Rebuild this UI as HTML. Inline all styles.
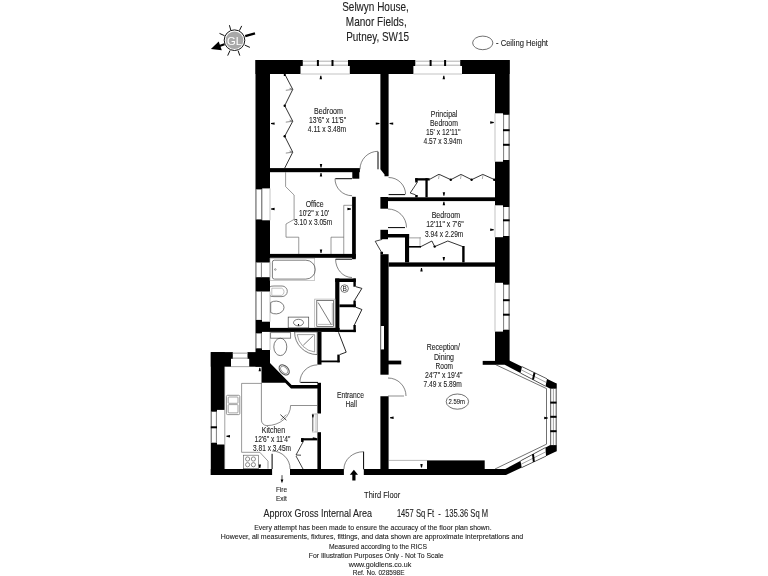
<!DOCTYPE html>
<html><head><meta charset="utf-8"><style>
html,body{margin:0;padding:0;background:#fff;width:768px;height:576px;overflow:hidden}
svg{display:block;filter:grayscale(1)}
text{font-family:"Liberation Sans",sans-serif}
</style></head><body>
<svg width="768" height="576" viewBox="0 0 768 576">
<rect width="768" height="576" fill="#fff"/>
<rect x="255.50" y="60.00" width="254.10" height="14.00" fill="#000" />
<rect x="300.50" y="66.00" width="49.30" height="8.00" fill="#fff" />
<rect x="302.80" y="60.00" width="45.20" height="6.00" fill="#fff" />
<line x1="302.80" y1="61.20" x2="348.00" y2="61.20" stroke="#9a9a9a" stroke-width="0.8"/>
<line x1="302.80" y1="65.20" x2="348.00" y2="65.20" stroke="#9a9a9a" stroke-width="0.8"/>
<line x1="300.50" y1="74.00" x2="349.80" y2="74.00" stroke="#9a9a9a" stroke-width="0.6"/>
<rect x="316.90" y="60.00" width="2.00" height="6.00" fill="#000" />
<rect x="331.50" y="60.00" width="2.00" height="6.00" fill="#000" />
<rect x="413.40" y="66.00" width="48.60" height="8.00" fill="#fff" />
<rect x="415.30" y="60.00" width="44.90" height="6.00" fill="#fff" />
<line x1="415.30" y1="61.20" x2="460.20" y2="61.20" stroke="#9a9a9a" stroke-width="0.8"/>
<line x1="415.30" y1="65.20" x2="460.20" y2="65.20" stroke="#9a9a9a" stroke-width="0.8"/>
<line x1="413.40" y1="74.00" x2="462.00" y2="74.00" stroke="#9a9a9a" stroke-width="0.6"/>
<rect x="429.60" y="60.00" width="2.00" height="6.00" fill="#000" />
<rect x="444.10" y="60.00" width="2.00" height="6.00" fill="#000" />
<rect x="255.50" y="60.00" width="14.50" height="306.70" fill="#000" />
<rect x="262.20" y="188.40" width="7.80" height="31.90" fill="#fff" />
<rect x="255.50" y="189.40" width="6.70" height="30.00" fill="#fff" />
<line x1="256.10" y1="189.40" x2="256.10" y2="219.40" stroke="#444" stroke-width="0.7"/>
<line x1="261.60" y1="189.40" x2="261.60" y2="219.40" stroke="#444" stroke-width="0.7"/>
<line x1="270.00" y1="188.40" x2="270.00" y2="220.30" stroke="#9a9a9a" stroke-width="0.6"/>
<rect x="262.00" y="262.50" width="8.00" height="14.70" fill="#fff" />
<rect x="255.50" y="262.50" width="6.50" height="14.70" fill="#fff" />
<line x1="256.10" y1="262.50" x2="256.10" y2="277.20" stroke="#444" stroke-width="0.7"/>
<line x1="261.40" y1="262.50" x2="261.40" y2="277.20" stroke="#444" stroke-width="0.7"/>
<line x1="270.00" y1="262.50" x2="270.00" y2="277.20" stroke="#9a9a9a" stroke-width="0.6"/>
<rect x="262.00" y="291.50" width="8.00" height="30.20" fill="#fff" />
<rect x="255.50" y="291.50" width="6.50" height="28.40" fill="#fff" />
<line x1="256.10" y1="291.50" x2="256.10" y2="319.90" stroke="#444" stroke-width="0.7"/>
<line x1="261.40" y1="291.50" x2="261.40" y2="319.90" stroke="#444" stroke-width="0.7"/>
<line x1="270.00" y1="291.50" x2="270.00" y2="321.70" stroke="#9a9a9a" stroke-width="0.6"/>
<rect x="262.00" y="331.90" width="8.00" height="18.10" fill="#fff" />
<rect x="255.50" y="333.40" width="6.50" height="14.90" fill="#fff" />
<line x1="256.10" y1="333.40" x2="256.10" y2="348.30" stroke="#444" stroke-width="0.7"/>
<line x1="261.40" y1="333.40" x2="261.40" y2="348.30" stroke="#444" stroke-width="0.7"/>
<line x1="270.00" y1="331.90" x2="270.00" y2="350.00" stroke="#9a9a9a" stroke-width="0.6"/>
<rect x="495.00" y="60.00" width="14.60" height="301.00" fill="#000" />
<rect x="495.00" y="113.30" width="8.00" height="48.40" fill="#fff" />
<rect x="503.00" y="114.80" width="6.60" height="45.20" fill="#fff" />
<line x1="509.00" y1="114.80" x2="509.00" y2="160.00" stroke="#444" stroke-width="0.7"/>
<line x1="503.60" y1="114.80" x2="503.60" y2="160.00" stroke="#444" stroke-width="0.7"/>
<line x1="495.00" y1="113.30" x2="495.00" y2="161.70" stroke="#9a9a9a" stroke-width="0.6"/>
<rect x="503.00" y="129.20" width="6.60" height="2.00" fill="#000" />
<rect x="503.00" y="143.80" width="6.60" height="2.00" fill="#000" />
<rect x="495.00" y="205.30" width="8.00" height="31.90" fill="#fff" />
<rect x="503.00" y="207.00" width="6.60" height="29.00" fill="#fff" />
<line x1="509.00" y1="207.00" x2="509.00" y2="236.00" stroke="#444" stroke-width="0.7"/>
<line x1="503.60" y1="207.00" x2="503.60" y2="236.00" stroke="#444" stroke-width="0.7"/>
<line x1="495.00" y1="205.30" x2="495.00" y2="237.20" stroke="#9a9a9a" stroke-width="0.6"/>
<rect x="503.00" y="219.30" width="6.60" height="2.00" fill="#000" />
<rect x="495.00" y="282.80" width="8.00" height="48.80" fill="#fff" />
<rect x="503.00" y="284.70" width="6.60" height="45.00" fill="#fff" />
<line x1="509.00" y1="284.70" x2="509.00" y2="329.70" stroke="#444" stroke-width="0.7"/>
<line x1="503.60" y1="284.70" x2="503.60" y2="329.70" stroke="#444" stroke-width="0.7"/>
<line x1="495.00" y1="282.80" x2="495.00" y2="331.60" stroke="#9a9a9a" stroke-width="0.6"/>
<rect x="503.00" y="299.20" width="6.60" height="2.00" fill="#000" />
<rect x="503.00" y="313.70" width="6.60" height="2.00" fill="#000" />
<rect x="482.70" y="360.90" width="12.80" height="3.90" fill="#000" />
<polygon points="495.00,360.50 509.40,360.50 556.50,383.40 556.50,388.70 550.30,388.70 504.70,364.80 495.00,364.80" fill="#000"/>
<rect x="550.30" y="383.40" width="6.20" height="67.80" fill="#000" />
<polygon points="556.50,445.00 556.50,451.20 506.00,475.00 495.00,475.00 495.00,469.00 505.30,469.00 550.30,445.00" fill="#000"/>
<polygon points="522.00,366.63 547.00,378.78 545.50,386.18 520.50,373.08" fill="#fff"/>
<polyline points="522.00,366.63 547.00,378.78" stroke="#333" stroke-width="0.7" fill="none" stroke-linejoin="miter"/>
<polyline points="520.50,373.08 545.50,386.18" stroke="#333" stroke-width="0.7" fill="none" stroke-linejoin="miter"/>
<polyline points="521.25,369.85 546.25,382.48" stroke="#666" stroke-width="0.6" fill="none" stroke-linejoin="miter"/>
<line x1="534.50" y1="372.70" x2="533.00" y2="379.63" stroke="#000" stroke-width="2"/>
<rect x="550.30" y="388.70" width="6.20" height="56.40" fill="#fff" />
<line x1="550.70" y1="388.70" x2="550.70" y2="445.10" stroke="#333" stroke-width="0.7"/>
<line x1="553.40" y1="388.70" x2="553.40" y2="445.10" stroke="#666" stroke-width="0.6"/>
<line x1="556.10" y1="388.70" x2="556.10" y2="445.10" stroke="#333" stroke-width="0.7"/>
<rect x="550.30" y="401.60" width="6.20" height="2.00" fill="#000" />
<rect x="550.30" y="415.80" width="6.20" height="2.00" fill="#000" />
<rect x="550.30" y="430.20" width="6.20" height="2.00" fill="#000" />
<polygon points="546.00,456.15 521.70,467.60 520.50,460.89 545.50,447.56" fill="#fff"/>
<polyline points="546.00,456.15 521.70,467.60" stroke="#333" stroke-width="0.7" fill="none" stroke-linejoin="miter"/>
<polyline points="545.50,447.56 520.50,460.89" stroke="#333" stroke-width="0.7" fill="none" stroke-linejoin="miter"/>
<polyline points="545.75,451.85 521.10,464.25" stroke="#666" stroke-width="0.6" fill="none" stroke-linejoin="miter"/>
<line x1="533.85" y1="461.87" x2="533.00" y2="454.23" stroke="#000" stroke-width="2"/>
<polyline points="495.90,364.80 546.50,388.60 546.50,444.20 495.00,469.00" stroke="#333" stroke-width="0.7" fill="none" stroke-linejoin="miter"/>
<rect x="290.00" y="469.00" width="53.90" height="6.00" fill="#000" />
<rect x="363.80" y="469.00" width="142.20" height="6.00" fill="#000" />
<rect x="427.00" y="460.40" width="57.70" height="14.60" fill="#000" />
<line x1="388.70" y1="460.40" x2="427.00" y2="460.40" stroke="#9a9a9a" stroke-width="0.7"/>
<rect x="210.80" y="352.10" width="14.00" height="122.90" fill="#000" />
<rect x="210.80" y="469.00" width="61.30" height="6.00" fill="#000" />
<rect x="210.80" y="352.10" width="59.20" height="14.60" fill="#000" />
<rect x="231.00" y="358.80" width="18.20" height="7.90" fill="#fff" />
<rect x="232.80" y="352.10" width="14.70" height="6.70" fill="#fff" />
<line x1="232.80" y1="353.30" x2="247.50" y2="353.30" stroke="#9a9a9a" stroke-width="0.8"/>
<line x1="232.80" y1="358.00" x2="247.50" y2="358.00" stroke="#9a9a9a" stroke-width="0.8"/>
<line x1="231.00" y1="366.70" x2="249.20" y2="366.70" stroke="#9a9a9a" stroke-width="0.6"/>
<rect x="217.00" y="409.90" width="7.80" height="34.60" fill="#fff" />
<rect x="210.80" y="411.70" width="6.20" height="31.00" fill="#fff" />
<line x1="211.40" y1="411.70" x2="211.40" y2="442.70" stroke="#444" stroke-width="0.7"/>
<line x1="216.40" y1="411.70" x2="216.40" y2="442.70" stroke="#444" stroke-width="0.7"/>
<line x1="224.80" y1="409.90" x2="224.80" y2="444.50" stroke="#9a9a9a" stroke-width="0.6"/>
<rect x="210.80" y="426.30" width="6.20" height="2.00" fill="#000" />
<polygon points="261.50,366.70 270.00,362.90 291.60,385.10 321.00,385.10 321.00,388.60 291.00,388.60 285.20,382.80 261.50,382.80" fill="#000"/>
<rect x="261.50" y="362.00" width="8.50" height="5.00" fill="#000" />
<polygon points="380.40,74.00 388.60,74.00 388.60,176.30 384.50,176.30 384.50,174.60 380.40,169.30" fill="#000"/>
<rect x="270.00" y="168.10" width="89.90" height="4.10" fill="#000" />
<rect x="352.30" y="172.00" width="7.00" height="6.70" fill="#000" />
<rect x="352.10" y="196.80" width="3.70" height="62.40" fill="#000" />
<rect x="270.00" y="253.90" width="85.80" height="3.90" fill="#000" />
<rect x="388.00" y="197.30" width="107.00" height="3.80" fill="#000" />
<rect x="380.40" y="197.00" width="7.60" height="11.70" fill="#000" />
<rect x="380.40" y="229.80" width="7.60" height="9.40" fill="#000" />
<rect x="388.00" y="234.00" width="21.10" height="3.50" fill="#000" />
<rect x="405.00" y="234.00" width="4.10" height="28.40" fill="#000" />
<rect x="388.60" y="262.40" width="106.40" height="4.30" fill="#000" />
<rect x="380.40" y="254.20" width="8.20" height="120.50" fill="#000" />
<rect x="380.40" y="251.80" width="2.60" height="2.40" fill="#000" />
<rect x="380.40" y="396.25" width="8.20" height="72.75" fill="#000" />
<rect x="388.00" y="360.60" width="13.25" height="3.80" fill="#000" />
<rect x="381.00" y="326.00" width="3.00" height="23.40" fill="#fff" />
<line x1="381.00" y1="326.00" x2="381.00" y2="349.40" stroke="#9a9a9a" stroke-width="0.6"/>
<rect x="269.75" y="327.90" width="69.95" height="4.00" fill="#000" />
<rect x="335.20" y="278.50" width="4.20" height="53.40" fill="#000" />
<rect x="335.20" y="278.50" width="20.60" height="3.50" fill="#000" />
<rect x="353.40" y="278.50" width="2.40" height="8.20" fill="#000" />
<rect x="339.40" y="304.40" width="16.40" height="2.80" fill="#000" />
<rect x="353.40" y="300.60" width="2.40" height="6.60" fill="#000" />
<rect x="339.40" y="329.70" width="16.40" height="2.40" fill="#000" />
<rect x="353.40" y="325.00" width="2.40" height="7.10" fill="#000" />
<polyline points="355.80,286.70 361.90,288.40 354.40,300.60" stroke="#111" stroke-width="0.9" fill="none" stroke-linejoin="miter"/>
<polyline points="355.80,307.20 361.90,309.50 354.40,325.00" stroke="#111" stroke-width="0.9" fill="none" stroke-linejoin="miter"/>
<circle cx="344.6" cy="288.6" r="3.8" fill="none" stroke="#222" stroke-width="0.6"/>
<text x="344.6" y="291.2" font-size="6.5" text-anchor="middle" fill="#222">B</text>
<rect x="317.40" y="331.90" width="4.10" height="32.70" fill="#000" />
<rect x="317.40" y="382.80" width="3.60" height="30.70" fill="#000" />
<rect x="317.40" y="432.20" width="3.60" height="37.10" fill="#000" />
<rect x="301.10" y="438.20" width="16.30" height="2.20" fill="#000" />
<rect x="301.10" y="438.20" width="2.50" height="3.80" fill="#000" />
<rect x="321.00" y="360.50" width="18.70" height="1.80" fill="#000" />
<rect x="337.30" y="354.60" width="2.40" height="7.70" fill="#000" />
<polyline points="338.50,332.30 346.20,352.20 339.70,354.60" stroke="#111" stroke-width="0.9" fill="none" stroke-linejoin="miter"/>
<line x1="378.00" y1="151.70" x2="378.00" y2="169.30" stroke="#000" stroke-width="1.0"/>
<path d="M360.00,169.30 A18,18 0 0 1 378.00,151.30" stroke="#333" stroke-width="0.6" fill="none"/>
<line x1="335.30" y1="178.70" x2="352.00" y2="178.70" stroke="#000" stroke-width="1.0"/>
<path d="M352.00,195.70 A17,17 0 0 1 335.00,178.70" stroke="#333" stroke-width="0.6" fill="none"/>
<line x1="388.60" y1="194.60" x2="405.00" y2="194.60" stroke="#000" stroke-width="1.0"/>
<path d="M388.60,177.50 A17,17 0 0 1 405.60,194.50" stroke="#333" stroke-width="0.6" fill="none"/>
<line x1="388.00" y1="227.60" x2="405.00" y2="227.60" stroke="#000" stroke-width="1.0"/>
<path d="M388.00,209.00 A18.5,18.5 0 0 1 406.50,227.50" stroke="#333" stroke-width="0.6" fill="none"/>
<line x1="335.60" y1="259.20" x2="352.00" y2="259.20" stroke="#000" stroke-width="1.0"/>
<path d="M335.6,259.2 A16.4,18.3 0 0 0 352,277.5" stroke="#333" stroke-width="0.6" fill="none"/>
<line x1="300.40" y1="382.40" x2="318.00" y2="382.40" stroke="#000" stroke-width="1.0"/>
<path d="M299.90,382.40 A17.5,17.5 0 0 1 317.40,364.90" stroke="#333" stroke-width="0.6" fill="none"/>
<line x1="388.00" y1="396.00" x2="404.00" y2="396.00" stroke="#444" stroke-width="0.6"/>
<path d="M388.00,378.00 A18,18 0 0 1 406.00,396.00" stroke="#333" stroke-width="0.6" fill="none"/>
<line x1="363.60" y1="451.70" x2="363.60" y2="469.30" stroke="#000" stroke-width="1.0"/>
<path d="M343.9,469.3 A19.7,17.6 0 0 1 363.6,451.7" stroke="#333" stroke-width="0.6" fill="none"/>
<line x1="272.10" y1="453.80" x2="272.10" y2="469.00" stroke="#000" stroke-width="1.0"/>
<path d="M272.10,451.00 A18,18 0 0 1 290.10,469.00" stroke="#333" stroke-width="0.6" fill="none"/>
<polyline points="284.70,74.00 292.75,89.40 284.70,105.70 292.75,121.25 284.70,136.25 292.75,152.20 284.70,168.10" stroke="#000" stroke-width="0.8" fill="none" stroke-linejoin="miter"/>
<polyline points="285.80,90.30 292.75,89.40 289.50,88.20" stroke="#444" stroke-width="0.6" fill="none" stroke-linejoin="miter"/>
<polyline points="285.80,122.15 292.75,121.25 289.50,120.05" stroke="#444" stroke-width="0.6" fill="none" stroke-linejoin="miter"/>
<polyline points="285.80,153.10 292.75,152.20 289.50,151.00" stroke="#444" stroke-width="0.6" fill="none" stroke-linejoin="miter"/>
<circle cx="284.70" cy="105.70" r="1.2" fill="#000"/>
<circle cx="284.70" cy="136.25" r="1.2" fill="#000"/>
<rect x="283.80" y="74.00" width="1.80" height="2.00" fill="#000" />
<rect x="415.20" y="178.20" width="14.50" height="2.30" fill="#000" />
<rect x="415.20" y="178.20" width="2.50" height="4.30" fill="#000" />
<rect x="415.20" y="195.00" width="2.50" height="2.30" fill="#000" />
<rect x="425.40" y="178.20" width="2.30" height="19.10" fill="#000" />
<polyline points="417.20,182.50 410.20,193.00 415.60,194.80" stroke="#111" stroke-width="0.8" fill="none" stroke-linejoin="miter"/>
<polyline points="429.70,179.30 439.00,174.25 450.80,179.70 461.00,174.40 471.60,179.70 482.80,174.40 494.70,179.70" stroke="#000" stroke-width="0.8" fill="none" stroke-linejoin="miter"/>
<line x1="439.30" y1="174.40" x2="438.50" y2="179.00" stroke="#888" stroke-width="0.7"/>
<line x1="461.30" y1="174.40" x2="460.50" y2="179.00" stroke="#888" stroke-width="0.7"/>
<line x1="483.10" y1="174.40" x2="482.30" y2="179.00" stroke="#888" stroke-width="0.7"/>
<circle cx="494.20" cy="179.70" r="1.2" fill="#000"/>
<circle cx="450.80" cy="179.70" r="1.2" fill="#000"/>
<circle cx="471.60" cy="179.70" r="1.2" fill="#000"/>
<rect x="409.00" y="237.50" width="12.00" height="0.80" fill="#888" />
<line x1="420.00" y1="237.50" x2="420.00" y2="246.60" stroke="#888" stroke-width="0.6"/>
<rect x="409.00" y="246.00" width="12.00" height="1.60" fill="#000" />
<polyline points="420.50,246.80 431.90,241.00 434.70,246.60 447.80,241.00 462.80,246.60" stroke="#000" stroke-width="0.8" fill="none" stroke-linejoin="miter"/>
<circle cx="434.70" cy="246.60" r="1.2" fill="#000"/>
<rect x="462.20" y="246.00" width="2.40" height="16.40" fill="#000" />
<polyline points="382.20,239.40 375.20,241.30 381.60,252.40" stroke="#111" stroke-width="0.8" fill="none" stroke-linejoin="miter"/>
<polyline points="285.60,172.20 285.60,186.60 294.10,195.00 294.10,219.40 286.00,224.00 286.00,237.20 298.75,237.20 298.75,254.00" stroke="#555" stroke-width="0.6" fill="none" stroke-linejoin="miter"/>
<polyline points="343.75,254.00 343.75,205.30 352.10,205.30" stroke="#555" stroke-width="0.6" fill="none" stroke-linejoin="miter"/>
<polyline points="331.00,254.00 331.00,237.20 343.75,237.20" stroke="#555" stroke-width="0.6" fill="none" stroke-linejoin="miter"/>
<rect x="270" y="258.6" width="44.7" height="22" fill="none" stroke="#aaa" stroke-width="0.6"/>
<path d="M274.4,260.2 H305.8 A9.5,9.45 0 0 1 305.8,279.1 H274.4 A2,2 0 0 1 272.4,277.1 V262.2 A2,2 0 0 1 274.4,260.2 Z" stroke="#444" stroke-width="0.7" fill="none"/>
<circle cx="275.3" cy="269.5" r="0.8" fill="none" stroke="#444" stroke-width="0.5"/>
<path d="M270,287 Q270,286 274,286 H282 A5.3,5.3 0 0 1 282,296.6 H274 Q270,296.6 270,295.6" stroke="#777" stroke-width="0.9" fill="none"/>
<path d="M271.8,288.2 H281.8 A4,4 0 0 1 281.8,295.4 H271.8 Z" stroke="#999" stroke-width="0.6" fill="none"/>
<path d="M270.7,302.5 A8.2,6.4 0 1 1 270.7,312.5 Z" stroke="#444" stroke-width="0.7" fill="none"/>
<rect x="288.2" y="317.1" width="20.5" height="10.8" fill="none" stroke="#444" stroke-width="0.7"/>
<ellipse cx="298.5" cy="322.6" rx="5" ry="3.3" fill="none" stroke="#444" stroke-width="0.7"/>
<polygon points="297.90,324.10 299.10,324.10 298.75,325.90 298.25,325.90" fill="#000"/>
<rect x="314.7" y="299.1" width="20.3" height="28.4" fill="none" stroke="#aaa" stroke-width="0.7"/>
<rect x="316.8" y="300.4" width="16.6" height="26.2" fill="none" stroke="#444" stroke-width="0.7"/>
<line x1="318.10" y1="302.50" x2="331.40" y2="324.80" stroke="#444" stroke-width="0.7"/>
<line x1="318.00" y1="324.40" x2="332.50" y2="324.40" stroke="#888" stroke-width="0.6"/>
<line x1="332.30" y1="303.00" x2="332.30" y2="325.00" stroke="#aaa" stroke-width="0.8"/>
<rect x="270.6" y="332.6" width="20" height="5.6" fill="none" stroke="#777" stroke-width="0.9"/>
<ellipse cx="280.3" cy="346.9" rx="6.5" ry="8.7" fill="none" stroke="#444" stroke-width="0.7"/>
<path d="M294.6,332 A22.6,22.6 0 0 0 317.2,354.6 V332 Z" stroke="#444" stroke-width="0.7" fill="none"/>
<path d="M297.2,334.6 A20,20 0 0 0 314.6,352 V334.6 Z" stroke="#666" stroke-width="0.6" fill="none"/>
<line x1="303.30" y1="345.20" x2="313.30" y2="335.60" stroke="#444" stroke-width="0.7"/>
<ellipse cx="284.2" cy="369.9" rx="6" ry="4" transform="rotate(45 284.2 369.9)" fill="none" stroke="#555" stroke-width="1"/>
<ellipse cx="284.2" cy="369.9" rx="4.5" ry="2.7" transform="rotate(45 284.2 369.9)" fill="none" stroke="#444" stroke-width="0.5"/>
<polyline points="241.60,383.40 241.60,452.30 259.80,452.30 268.00,461.10 268.00,468.70" stroke="#555" stroke-width="0.6" fill="none" stroke-linejoin="miter"/>
<line x1="241.60" y1="383.40" x2="261.50" y2="383.40" stroke="#555" stroke-width="0.6"/>
<path d="M261.4,382.8 V420.1 A5.5,5.5 0 0 0 266.9,425.6 A23.7,20.1 0 0 0 290.6,405.5 H317.4" stroke="#444" stroke-width="0.6" fill="none"/>
<line x1="280.40" y1="414.60" x2="286.40" y2="420.20" stroke="#111" stroke-width="0.8"/>
<line x1="286.20" y1="414.60" x2="280.60" y2="420.20" stroke="#111" stroke-width="0.5"/>
<rect x="226.4" y="395.3" width="13.4" height="19.3" rx="1.2" fill="none" stroke="#888" stroke-width="0.9"/>
<rect x="228.2" y="397" width="9.8" height="6.3" rx="0.8" fill="none" stroke="#666" stroke-width="0.6"/>
<rect x="228.2" y="404.6" width="9.8" height="8.3" rx="0.8" fill="none" stroke="#666" stroke-width="0.6"/>
<rect x="243.6" y="455.2" width="15" height="13.5" fill="none" stroke="#555" stroke-width="0.6"/>
<circle cx="247.6" cy="459" r="2.1" fill="none" stroke="#444" stroke-width="0.6"/>
<circle cx="253.4" cy="459" r="2.1" fill="none" stroke="#444" stroke-width="0.6"/>
<circle cx="247.6" cy="464.7" r="2.1" fill="none" stroke="#444" stroke-width="0.6"/>
<circle cx="253.4" cy="464.7" r="2.1" fill="none" stroke="#444" stroke-width="0.6"/>
<polygon points="258.60,464.40 261.00,464.40 260.30,468.00 259.30,468.00" fill="#000"/>
<line x1="224.80" y1="366.70" x2="224.80" y2="469.00" stroke="#bbb" stroke-width="0.6"/>
<rect x="314.80" y="413.50" width="2.60" height="18.70" fill="#ddd" />
<rect x="312.6" y="414" width="4.8" height="18" fill="none" stroke="#999" stroke-width="0.6"/>
<line x1="312.90" y1="416.00" x2="312.90" y2="431.00" stroke="#333" stroke-width="0.6"/>
<polygon points="311.82,414.38 313.98,414.38 313.35,417.62 312.45,417.62" fill="#000"/>
<polygon points="312.80,437.30 312.80,439.70 316.40,439.00 316.40,438.00" fill="#000"/>
<polyline points="303.00,442.00 296.00,455.00 301.00,455.20" stroke="#111" stroke-width="0.8" fill="none" stroke-linejoin="miter"/>
<polyline points="296.00,456.00 303.00,469.00" stroke="#111" stroke-width="0.8" fill="none" stroke-linejoin="miter"/>
<polygon points="353.90,469.80 349.80,474.80 352.30,474.80 352.30,480.40 355.50,480.40 355.50,474.80 358.00,474.80" fill="#000"/>
<line x1="282.00" y1="475.20" x2="282.00" y2="481.00" stroke="#111" stroke-width="0.8"/>
<polygon points="282.00,483.20 280.60,479.50 283.40,479.50" fill="#000"/>
<polygon points="319.60,79.30 322.00,79.30 321.30,75.70 320.30,75.70" fill="#000"/>
<polygon points="442.60,79.30 445.00,79.30 444.30,75.70 443.30,75.70" fill="#000"/>
<polygon points="274.60,122.40 274.60,124.80 271.00,124.10 271.00,123.10" fill="#000"/>
<polygon points="375.80,122.40 375.80,124.80 379.40,124.10 379.40,123.10" fill="#000"/>
<polygon points="393.20,122.40 393.20,124.80 389.60,124.10 389.60,123.10" fill="#000"/>
<polygon points="490.20,121.30 490.20,123.70 493.80,123.00 493.80,122.00" fill="#000"/>
<polygon points="319.80,176.60 322.20,176.60 321.50,173.00 320.50,173.00" fill="#000"/>
<polygon points="319.80,164.00 322.20,164.00 321.50,167.60 320.50,167.60" fill="#000"/>
<polygon points="274.60,207.80 274.60,210.20 271.00,209.50 271.00,208.50" fill="#000"/>
<polygon points="347.40,207.80 347.40,210.20 351.00,209.50 351.00,208.50" fill="#000"/>
<polygon points="319.80,249.40 322.20,249.40 321.50,253.00 320.50,253.00" fill="#000"/>
<polygon points="442.70,205.30 445.10,205.30 444.40,201.70 443.40,201.70" fill="#000"/>
<polygon points="442.70,192.20 445.10,192.20 444.40,195.80 443.40,195.80" fill="#000"/>
<polygon points="490.20,228.60 490.20,231.00 493.80,230.30 493.80,229.30" fill="#000"/>
<polygon points="420.30,271.60 422.70,271.60 422.00,268.00 421.00,268.00" fill="#000"/>
<polygon points="442.60,257.00 445.00,257.00 444.30,260.60 443.30,260.60" fill="#000"/>
<polygon points="544.20,416.80 544.20,419.20 547.80,418.50 547.80,417.50" fill="#000"/>
<polygon points="420.30,464.00 422.70,464.00 422.00,467.60 421.00,467.60" fill="#000"/>
<polygon points="258.60,371.30 261.00,371.30 260.30,367.70 259.30,367.70" fill="#000"/>
<polygon points="230.00,435.10 230.00,437.50 226.40,436.80 226.40,435.80" fill="#000"/>
<polygon points="393.60,416.60 393.60,419.00 390.00,418.30 390.00,417.30" fill="#000"/>
<text x="342.20" y="10.70" font-size="12.6" textLength="66.60" lengthAdjust="spacingAndGlyphs" fill="#222" stroke="#222" stroke-width="0.1">Selwyn House,</text>
<text x="345.80" y="25.80" font-size="12.6" textLength="60.90" lengthAdjust="spacingAndGlyphs" fill="#222" stroke="#222" stroke-width="0.1">Manor Fields,</text>
<text x="346.20" y="40.80" font-size="12.6" textLength="62.90" lengthAdjust="spacingAndGlyphs" fill="#222" stroke="#222" stroke-width="0.1">Putney, SW15</text>
<text x="496.00" y="46.40" font-size="8.6" textLength="52.00" lengthAdjust="spacingAndGlyphs" fill="#222" stroke="#222" stroke-width="0.1">- Ceiling Height</text>
<text x="314.10" y="113.90" font-size="8.2" textLength="28.90" lengthAdjust="spacingAndGlyphs" fill="#222" stroke="#222" stroke-width="0.1">Bedroom</text>
<text x="309.00" y="123.00" font-size="8.2" textLength="37.10" lengthAdjust="spacingAndGlyphs" fill="#222" stroke="#222" stroke-width="0.1">13'6" x 11'5"</text>
<text x="307.80" y="132.20" font-size="8.2" textLength="38.30" lengthAdjust="spacingAndGlyphs" fill="#222" stroke="#222" stroke-width="0.1">4.11 x 3.48m</text>
<text x="430.80" y="116.90" font-size="8.2" textLength="26.60" lengthAdjust="spacingAndGlyphs" fill="#222" stroke="#222" stroke-width="0.1">Principal</text>
<text x="430.00" y="125.80" font-size="8.2" textLength="27.90" lengthAdjust="spacingAndGlyphs" fill="#222" stroke="#222" stroke-width="0.1">Bedroom</text>
<text x="426.00" y="134.90" font-size="8.2" textLength="34.60" lengthAdjust="spacingAndGlyphs" fill="#222" stroke="#222" stroke-width="0.1">15' x 12'11''</text>
<text x="423.50" y="143.70" font-size="8.2" textLength="38.50" lengthAdjust="spacingAndGlyphs" fill="#222" stroke="#222" stroke-width="0.1">4.57 x 3.94m</text>
<text x="305.70" y="206.70" font-size="8.2" textLength="18.00" lengthAdjust="spacingAndGlyphs" fill="#222" stroke="#222" stroke-width="0.1">Office</text>
<text x="299.00" y="215.70" font-size="8.2" textLength="30.10" lengthAdjust="spacingAndGlyphs" fill="#222" stroke="#222" stroke-width="0.1">10'2'' x 10'</text>
<text x="294.00" y="224.70" font-size="8.2" textLength="38.30" lengthAdjust="spacingAndGlyphs" fill="#222" stroke="#222" stroke-width="0.1">3.10 x 3.05m</text>
<text x="431.70" y="217.90" font-size="8.2" textLength="28.50" lengthAdjust="spacingAndGlyphs" fill="#222" stroke="#222" stroke-width="0.1">Bedroom</text>
<text x="426.25" y="226.90" font-size="8.2" textLength="37.50" lengthAdjust="spacingAndGlyphs" fill="#222" stroke="#222" stroke-width="0.1">12'11" x 7'6"</text>
<text x="425.10" y="236.60" font-size="8.2" textLength="38.30" lengthAdjust="spacingAndGlyphs" fill="#222" stroke="#222" stroke-width="0.1">3.94 x 2.29m</text>
<text x="426.70" y="350.30" font-size="8.2" textLength="33.20" lengthAdjust="spacingAndGlyphs" fill="#222" stroke="#222" stroke-width="0.1">Reception/</text>
<text x="434.00" y="360.00" font-size="8.2" textLength="20.00" lengthAdjust="spacingAndGlyphs" fill="#222" stroke="#222" stroke-width="0.1">Dining</text>
<text x="435.60" y="368.60" font-size="8.2" textLength="17.40" lengthAdjust="spacingAndGlyphs" fill="#222" stroke="#222" stroke-width="0.1">Room</text>
<text x="424.90" y="377.70" font-size="8.2" textLength="37.60" lengthAdjust="spacingAndGlyphs" fill="#222" stroke="#222" stroke-width="0.1">24'7" x 19'4"</text>
<text x="423.60" y="387.10" font-size="8.2" textLength="38.30" lengthAdjust="spacingAndGlyphs" fill="#222" stroke="#222" stroke-width="0.1">7.49 x 5.89m</text>
<ellipse cx="457.4" cy="401.6" rx="11.2" ry="7.6" fill="none" stroke="#333" stroke-width="0.7"/>
<text x="448.60" y="404.40" font-size="6.5" textLength="16.40" lengthAdjust="spacingAndGlyphs" fill="#222" stroke="#222" stroke-width="0.1">2.59m</text>
<text x="261.80" y="432.50" font-size="8.2" textLength="23.30" lengthAdjust="spacingAndGlyphs" fill="#222" stroke="#222" stroke-width="0.1">Kitchen</text>
<text x="254.50" y="441.50" font-size="8.2" textLength="35.80" lengthAdjust="spacingAndGlyphs" fill="#222" stroke="#222" stroke-width="0.1">12'6" x 11'4"</text>
<text x="253.10" y="450.60" font-size="8.2" textLength="37.90" lengthAdjust="spacingAndGlyphs" fill="#222" stroke="#222" stroke-width="0.1">3.81 x 3.45m</text>
<text x="337.00" y="397.70" font-size="8.4" textLength="26.90" lengthAdjust="spacingAndGlyphs" fill="#222" stroke="#222" stroke-width="0.1">Entrance</text>
<text x="345.60" y="406.80" font-size="8.4" textLength="11.40" lengthAdjust="spacingAndGlyphs" fill="#222" stroke="#222" stroke-width="0.1">Hall</text>
<text x="275.90" y="491.70" font-size="8.0" textLength="11.20" lengthAdjust="spacingAndGlyphs" fill="#222" stroke="#222" stroke-width="0.1">Fire</text>
<text x="275.90" y="500.80" font-size="8.0" textLength="11.00" lengthAdjust="spacingAndGlyphs" fill="#222" stroke="#222" stroke-width="0.1">Exit</text>
<text x="364.10" y="497.70" font-size="9.0" textLength="36.10" lengthAdjust="spacingAndGlyphs" fill="#222" stroke="#222" stroke-width="0.1">Third Floor</text>
<text x="263.50" y="516.60" font-size="10.2" textLength="108.40" lengthAdjust="spacingAndGlyphs" fill="#222" stroke="#222" stroke-width="0.1">Approx Gross Internal Area</text>
<text x="396.90" y="516.80" font-size="10.2" textLength="91.20" lengthAdjust="spacingAndGlyphs" fill="#222" stroke="#222" stroke-width="0.1">1457 Sq Ft&#160;&#160;-&#160;&#160;135.36 Sq M</text>
<text x="254.20" y="529.60" font-size="7.2" textLength="237.40" lengthAdjust="spacingAndGlyphs" fill="#222" stroke="#222" stroke-width="0.1">Every attempt has been made to ensure the accuracy of the floor plan shown.</text>
<text x="220.80" y="539.00" font-size="7.2" textLength="302.40" lengthAdjust="spacingAndGlyphs" fill="#222" stroke="#222" stroke-width="0.1">However, all measurements, fixtures, fittings, and data shown are approximate interpretations and</text>
<text x="328.90" y="548.70" font-size="7.2" textLength="98.10" lengthAdjust="spacingAndGlyphs" fill="#222" stroke="#222" stroke-width="0.1">Measured according to the RICS</text>
<text x="308.80" y="557.50" font-size="7.2" textLength="134.80" lengthAdjust="spacingAndGlyphs" fill="#222" stroke="#222" stroke-width="0.1">For Illustration Purposes Only - Not To Scale</text>
<text x="348.80" y="566.60" font-size="7.2" textLength="62.50" lengthAdjust="spacingAndGlyphs" fill="#222" stroke="#222" stroke-width="0.1">www.goldlens.co.uk</text>
<text x="352.70" y="575.30" font-size="7.2" textLength="51.80" lengthAdjust="spacingAndGlyphs" fill="#222" stroke="#222" stroke-width="0.1">Ref. No. 028598E</text>
<ellipse cx="482.75" cy="42.9" rx="10.1" ry="6.8" fill="none" stroke="#333" stroke-width="0.7"/>
<circle cx="234.5" cy="40.2" r="10.3" fill="#fff" stroke="#111" stroke-width="1"/>
<circle cx="234.5" cy="40.2" r="8.8" fill="#a8a8a8"/>
<line x1="229.40" y1="25.20" x2="230.80" y2="30.20" stroke="#111" stroke-width="1.0"/>
<line x1="241.70" y1="25.90" x2="239.40" y2="30.60" stroke="#111" stroke-width="1.0"/>
<line x1="219.50" y1="33.40" x2="224.50" y2="35.70" stroke="#111" stroke-width="1.0"/>
<line x1="244.80" y1="45.10" x2="249.90" y2="47.40" stroke="#111" stroke-width="1.0"/>
<line x1="227.70" y1="55.60" x2="230.00" y2="50.50" stroke="#111" stroke-width="1.0"/>
<line x1="239.80" y1="55.60" x2="238.20" y2="50.90" stroke="#111" stroke-width="1.0"/>
<line x1="245.20" y1="36.10" x2="255.00" y2="33.40" stroke="#000" stroke-width="2.2"/>
<line x1="224.50" y1="44.30" x2="216.00" y2="47.20" stroke="#000" stroke-width="2.2"/>
<polygon points="210.90,49.00 218.70,41.60 221.80,50.20" fill="#000"/>
<text x="234.5" y="44.6" font-size="11.5" text-anchor="middle" fill="#fff" textLength="15" lengthAdjust="spacingAndGlyphs">GL</text>
</svg></body></html>
